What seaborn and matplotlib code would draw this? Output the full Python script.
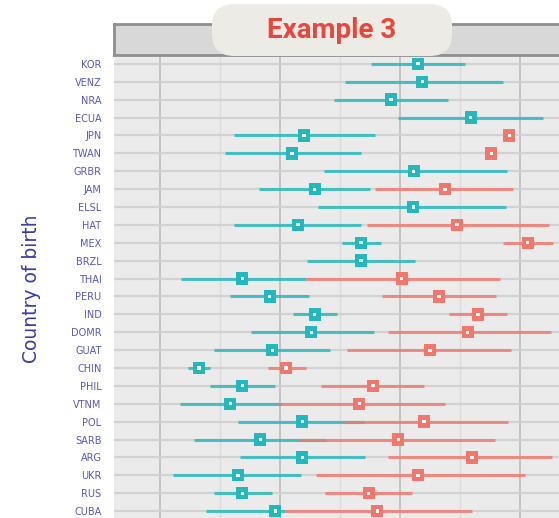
import matplotlib
matplotlib.use('Agg')
import matplotlib.pyplot as plt
from matplotlib.patches import FancyBboxPatch
from matplotlib.transforms import IdentityTransform
import numpy as np
import pandas as pd
import seaborn as sns

# --- data (x in arbitrary axis units) ---
countries = ['KOR', 'VENZ', 'NRA', 'ECUA', 'JPN', 'TWAN', 'GRBR', 'JAM', 'ELSL',
             'HAT', 'MEX', 'BRZL', 'THAI', 'PERU', 'IND', 'DOMR', 'GUAT', 'CHIN',
             'PHIL', 'VTNM', 'POL', 'SARB', 'ARG', 'UKR', 'RUS', 'CUBA']

teal_est = [63.0, 63.7, 58.5, 71.8, 44.0, 42.0, 62.3, 45.8, 62.2, 43.0, 53.5, 53.5, 33.7,
            38.3, 45.8, 45.2, 38.7, 26.5, 33.7, 31.7, 43.7, 36.7, 43.7, 33.0, 33.7, 39.2]
teal_lo = [55.2, 50.8, 49.0, 59.7, 32.3, 30.8, 47.3, 36.5, 46.3, 32.3, 50.3, 44.5, 23.5,
           31.7, 42.2, 35.2, 29.0, 24.7, 28.3, 23.3, 33.0, 25.7, 33.3, 22.2, 29.0, 27.7]
teal_hi = [70.8, 77.2, 68.0, 83.8, 55.8, 53.5, 77.8, 55.0, 77.7, 53.5, 56.8, 62.5, 44.3,
           44.8, 49.5, 55.7, 48.3, 28.3, 39.2, 40.3, 54.0, 47.7, 54.2, 43.5, 38.7, 40.8]

nan = np.nan
red_est = [nan, nan, nan, nan, 78.2, 75.2, nan, 67.5, nan, 69.5, 81.3, nan, 60.3,
           66.5, 73.0, 71.3, 65.0, 41.0, 55.5, 53.2, 64.0, 59.7, 72.0, 63.0, 54.8, 56.2]
red_lo = [nan, nan, nan, nan, nan, nan, nan, 55.8, nan, 54.5, 77.2, nan, 44.3,
          57.0, 68.2, 58.0, 51.2, 38.0, 46.8, 39.7, 50.7, 43.2, 58.0, 46.0, 47.5, 40.8]
red_hi = [nan, nan, nan, nan, nan, nan, nan, 78.8, nan, 84.8, 85.5, nan, 76.7,
          76.0, 77.8, 85.2, 78.5, 44.3, 64.0, 67.5, 78.0, 75.8, 85.3, 80.8, 62.0, 72.0]

groups = ['teal', 'red']
palette = {'teal': '#22b8bc', 'red': '#f1776c'}

rows = np.arange(len(countries))
df = pd.concat([
    pd.DataFrame({'row': rows, 'country': countries, 'group': 'teal',
                  'est': teal_est, 'lo': teal_lo, 'hi': teal_hi}),
    pd.DataFrame({'row': rows, 'country': countries, 'group': 'red',
                  'est': red_est, 'lo': red_lo, 'hi': red_hi}),
], ignore_index=True)

sns.set_style('white')
plt.rcParams['font.family'] = ['DejaVu Sans']

W, H = 559, 518
fig = plt.figure(figsize=(W / 100, H / 100), dpi=100)

# main panel (runs off the right and bottom edge like the cropped original)
ax = fig.add_axes([114 / W, -12 / H, 466 / W, 475 / H])
ax.set_facecolor('#ebebeb')

# confidence intervals
for g in groups:
    sub = df[(df.group == g) & df.lo.notna()]
    ax.hlines(sub.row, sub.lo, sub.hi, colors=palette[g], lw=2.2, alpha=0.8, zorder=3)

pts = df[df.est.notna()]
sns.scatterplot(data=pts, x='est', y='row', hue='group', palette=palette,
                marker='s', s=80, edgecolor='none', legend=False, ax=ax, zorder=4)
sns.scatterplot(data=pts, x='est', y='row', color='white', marker='s', s=5,
                edgecolor='none', legend=False, ax=ax, zorder=5)

ax.set_xlim(12.33, 90.0)
ax.set_ylim(26.06, -0.5)
ax.set_xticks([20, 40, 60, 80])
ax.set_xticks([30, 50, 70], minor=True)
ax.set_yticks(rows)
ax.set_yticklabels(countries)
ax.grid(which='major', axis='x', color='#b8b8b8', lw=1.1, zorder=0)
ax.grid(which='minor', axis='x', color='#dadada', lw=1.0, zorder=0)
ax.grid(which='major', axis='y', color='#d2d2d2', lw=1.6, zorder=0)
ax.set_axisbelow(True)
ax.tick_params(axis='x', which='both', bottom=False, labelbottom=False)
ax.tick_params(axis='y', length=5, width=1.6, color='#444444', pad=4,
               labelsize=7, labelcolor='#5656c2')
ax.set_xlabel('')
ax.set_ylabel('')
for s in ax.spines.values():
    s.set_visible(False)

# facet strip
sax = fig.add_axes([114 / W, 1 - 55 / H, 466 / W, 31 / H])
sax.set_facecolor('#d8d8d8')
sax.set_xticks([])
sax.set_yticks([])
for s in sax.spines.values():
    s.set_color('#8e8e8e')
    s.set_linewidth(2)

fig.text(32 / W, 1 - 289 / H, 'Country of birth', rotation=90, ha='center',
         va='center', fontsize=13.5, color='#3b3ba6')

# "Example 3" badge
badge = FancyBboxPatch((212, H - 56), 240, 52,
                       boxstyle='round,pad=0,rounding_size=22',
                       transform=IdentityTransform(), fc='#ecebe6', ec='none',
                       zorder=10)
fig.add_artist(badge)
fig.text(332 / W, 1 - 31 / H, 'Example 3', ha='center', va='center',
         fontsize=20, fontweight='bold', color='#e9473d',
         family=['Roboto', 'DejaVu Sans'], zorder=11)

fig.savefig('out.png', dpi=100)
